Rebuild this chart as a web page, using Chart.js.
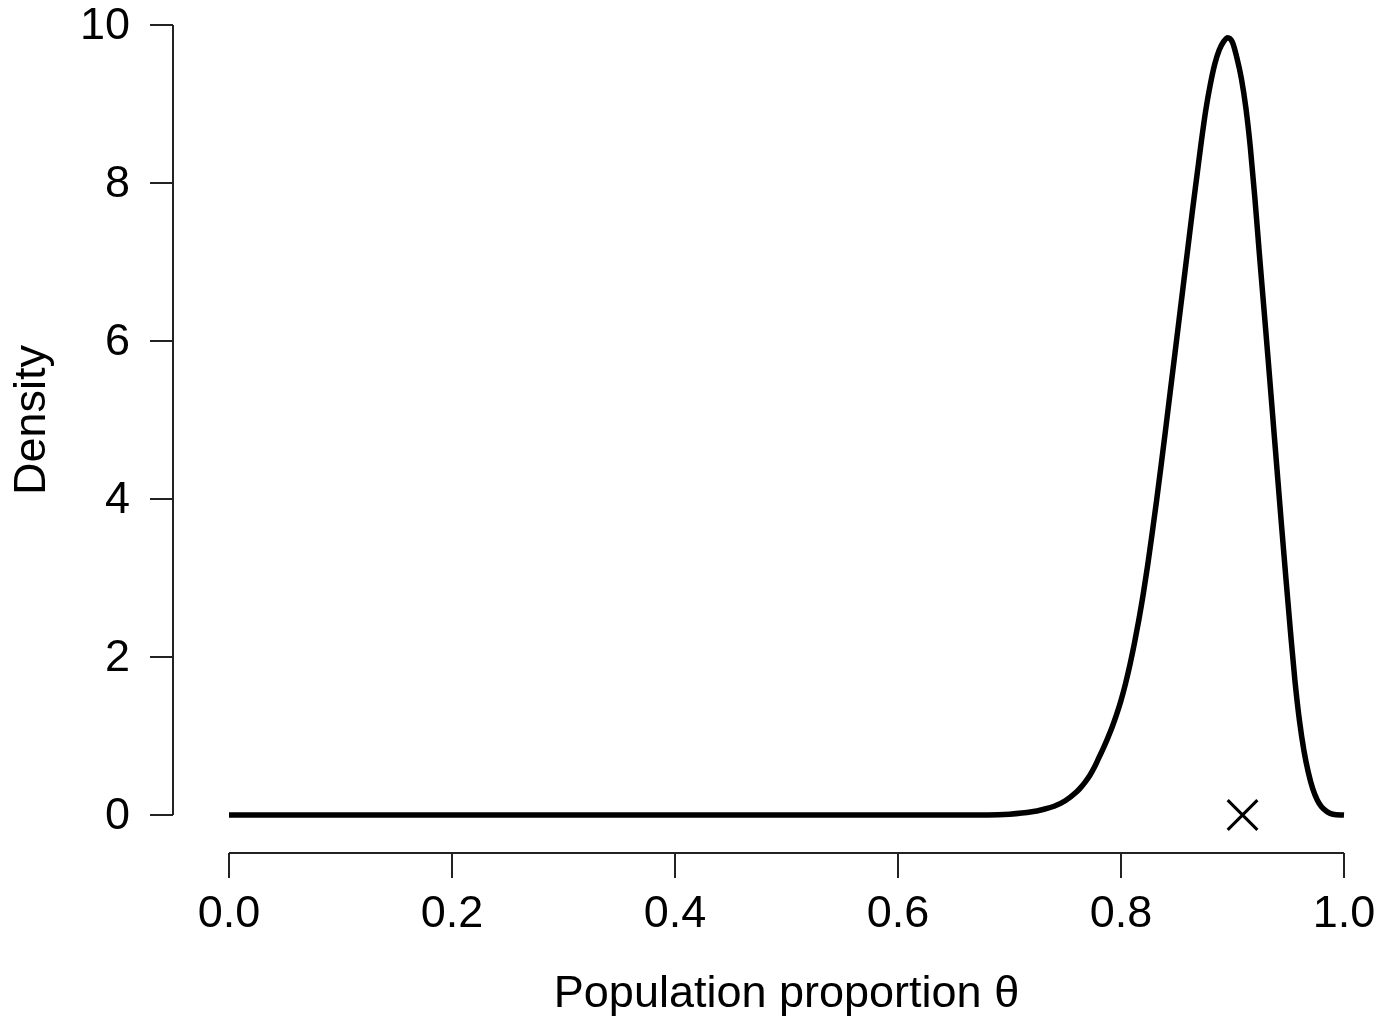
<!DOCTYPE html>
<html>
<head>
<meta charset="utf-8">
<title>Density</title>
<script src="https://cdn.jsdelivr.net/npm/chart.js@4.4.1/dist/chart.umd.min.js"></script>
<style>
    html, body { margin: 0; padding: 0; background: #fff; }
    #wrap { width: 1381px; height: 1017px; position: relative; }
</style>
</head>
<body>
<div id="wrap"><canvas id="densityChart"></canvas></div>
<script>
// valores
const theta = [0, 0.5, 0.68, 0.70, 0.72, 0.73, 0.74, 0.75, 0.76, 0.764, 0.768, 0.772, 0.776,
    0.78, 0.784, 0.788, 0.792, 0.796, 0.80, 0.804, 0.808, 0.812, 0.816, 0.82, 0.824,
    0.828, 0.832, 0.836, 0.84, 0.844, 0.848, 0.852, 0.856, 0.86, 0.864, 0.868, 0.872,
    0.876, 0.88, 0.884, 0.888, 0.892, 0.8957, 0.90, 0.904, 0.908, 0.912, 0.916, 0.92,
    0.924, 0.928, 0.932, 0.936, 0.94, 0.944, 0.948, 0.952, 0.956, 0.96, 0.964, 0.968,
    0.972, 0.976, 0.98, 0.985, 0.99, 1.0];
const density = [0, 0, 0, 0.01, 0.04, 0.07, 0.11, 0.18, 0.29, 0.35, 0.42, 0.50, 0.60,
    0.72, 0.84, 0.97, 1.11, 1.27, 1.45, 1.66, 1.90, 2.17, 2.47, 2.80, 3.17,
    3.57, 3.99, 4.43, 4.88, 5.34, 5.80, 6.26, 6.72, 7.18, 7.64, 8.08, 8.52,
    8.92, 9.24, 9.50, 9.68, 9.79, 9.84, 9.78, 9.58, 9.32, 8.95, 8.45, 7.82,
    7.12, 6.44, 5.76, 5.06, 4.36, 3.66, 2.98, 2.32, 1.70, 1.20, 0.82, 0.54,
    0.33, 0.19, 0.10, 0.04, 0.01, 0];
const markX = [0.909];
const markY = [0];
const xTicks = [0, 0.2, 0.4, 0.6, 0.8, 1.0];
const yTicks = [0, 2, 4, 6, 8, 10];
const xTitle = 'Population proportion θ';
const yTitle = 'Density';

const FONT = '45px "Liberation Sans", Arial, sans-serif';

// ejes estilo R (separados del area de datos)
const rAxes = {
    id: 'rAxes',
    afterDraw(chart) {
        const ctx = chart.ctx;
        const xs = chart.scales.x;
        const ys = chart.scales.y;
        const area = chart.chartArea;
        const axX = area.left - 56;
        const axY = area.bottom + 38;
        ctx.save();
        ctx.strokeStyle = '#222';
        ctx.lineWidth = 2;
        ctx.fillStyle = '#000';
        ctx.font = FONT;

        // eje y
        ctx.beginPath();
        ctx.moveTo(axX, ys.getPixelForValue(yTicks[0]));
        ctx.lineTo(axX, ys.getPixelForValue(yTicks[yTicks.length - 1]));
        yTicks.forEach(function (v) {
            const py = ys.getPixelForValue(v);
            ctx.moveTo(axX, py);
            ctx.lineTo(axX - 23, py);
        });
        ctx.stroke();
        ctx.textAlign = 'right';
        ctx.textBaseline = 'middle';
        yTicks.forEach(function (v) {
            ctx.fillText(String(v), axX - 43, ys.getPixelForValue(v) + 2);
        });

        // eje x
        ctx.beginPath();
        ctx.moveTo(xs.getPixelForValue(xTicks[0]), axY);
        ctx.lineTo(xs.getPixelForValue(xTicks[xTicks.length - 1]), axY);
        xTicks.forEach(function (v) {
            const px = xs.getPixelForValue(v);
            ctx.moveTo(px, axY);
            ctx.lineTo(px, axY + 25);
        });
        ctx.stroke();
        ctx.textAlign = 'center';
        ctx.textBaseline = 'alphabetic';
        xTicks.forEach(function (v) {
            ctx.fillText(v.toFixed(1), xs.getPixelForValue(v), axY + 74);
        });

        // titulos
        ctx.fillText(xTitle, (area.left + area.right) / 2, axY + 154);
        ctx.translate(45, (area.top + area.bottom) / 2);
        ctx.rotate(-Math.PI / 2);
        ctx.fillText(yTitle, 0, 0);
        ctx.restore();
    }
};

document.addEventListener('DOMContentLoaded', function () {
    const ctx = document.getElementById('densityChart');
    new Chart(ctx, {
        type: 'line',
        data: {
            datasets: [{
                data: theta.map(function (t, i) { return { x: t, y: density[i] }; }),
                borderColor: '#000',
                borderWidth: 5.5,
                pointRadius: 0,
                fill: false,
                cubicInterpolationMode: 'monotone',
                clip: false
            }, {
                type: 'scatter',
                data: markX.map(function (t, i) { return { x: t, y: markY[i] }; }),
                pointStyle: 'crossRot',
                pointRadius: 21,
                borderColor: '#000',
                borderWidth: 3,
                clip: false
            }]
        },
        options: {
            responsive: true,
            maintainAspectRatio: false,
            animation: false,
            events: [],
            layout: {
                padding: { left: 229, right: 37, top: 25, bottom: 202 }
            },
            scales: {
                x: { type: 'linear', min: 0, max: 1, display: false },
                y: { min: 0, max: 10, display: false }
            },
            plugins: {
                legend: { display: false },
                tooltip: { enabled: false }
            }
        },
        plugins: [rAxes]
    });
});
</script>
</body>
</html>
